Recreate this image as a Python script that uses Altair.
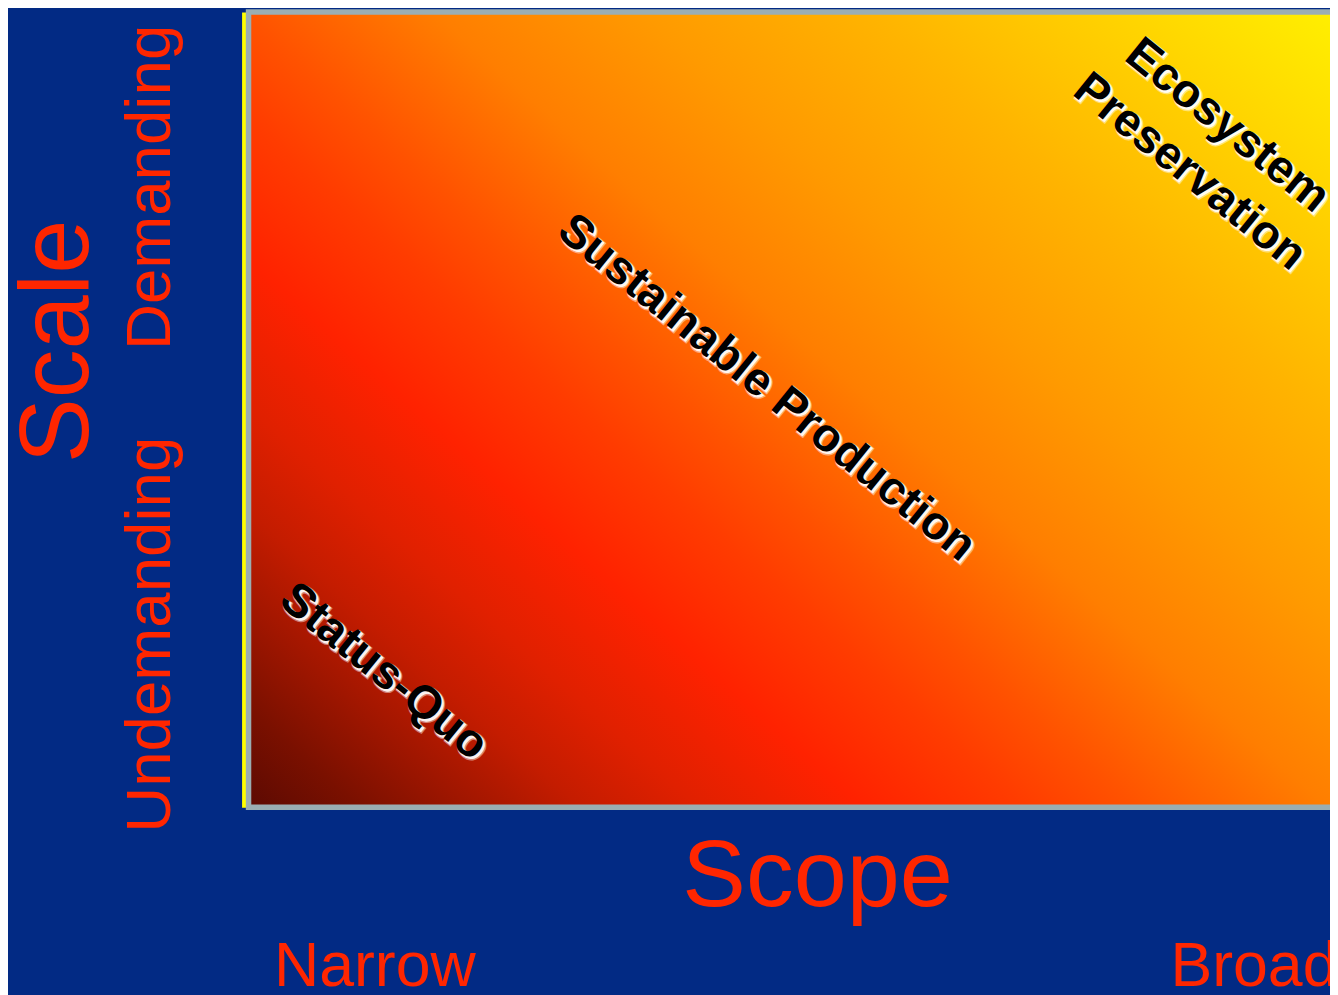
import altair as alt
import pandas as pd

# ---- data -------------------------------------------------------------
scope_span = [0.0, 1.01]          # field extends past the visible right edge
scale_span = [0.0, 1.0]

region_names = ["Status-Quo", "Sustainable Production", "Ecosystem\nPreservation"]
region_scope = [0.125, 0.479, 0.905]
region_scale = [0.17, 0.527, 0.857]

scale_ticks = [0.2175, 0.78]
scale_tick_labels = ["Undemanding", "Demanding"]
scope_ticks = [0.023, 0.852]
scope_tick_labels = ["Narrow", "Broad"]

# ---- layout / style ----------------------------------------------------
W_PLOT, H_PLOT = 1088, 800
BG = "#022a84"
RED_TXT = "#ff2600"
FONT = "Liberation Sans"

# colour stops along the diagonal (0 = bottom-left, 1 = top-right)
grad_stops = [
    (0.000, "#5c0a02"),
    (0.056, "#7a1000"),
    (0.113, "#a01600"),
    (0.169, "#c41c00"),
    (0.229, "#e02000"),
    (0.313, "#ff2200"),
    (0.395, "#ff3c00"),
    (0.451, "#ff5200"),
    (0.549, "#ff7e00"),
    (0.655, "#ff9a00"),
    (0.771, "#ffb400"),
    (1.000, "#ffee00"),
]

# gradient direction: isolines slightly flatter than 45 degrees
W_RECT = W_PLOT * scope_span[1]
H_RECT = H_PLOT
A, B, TMAX = 620.0, 551.0, 3.19
Q = W_RECT ** 2 / A ** 2 + H_RECT ** 2 / B ** 2
k = TMAX / Q
gx2 = W_RECT * k / A
gy2 = 1 - H_RECT * k / B

gradient = alt.LinearGradient(
    gradient="linear",
    stops=[alt.GradientStop(offset=o, color=c) for o, c in grad_stops],
    x1=0, y1=1, x2=gx2, y2=gy2,
)

rect_df = pd.DataFrame({
    "x0": [scope_span[0]], "x1": [scope_span[1]],
    "y0": [scale_span[0]], "y1": [scale_span[1]],
})
label_df = pd.DataFrame({"x0": region_scope, "y0": region_scale, "name": region_names})

y_expr = " : ".join(
    [f"abs(datum.value - {v}) < 0.001 ? '{t}'" for v, t in zip(scale_ticks, scale_tick_labels)]
) + " : ''"
x_expr = " : ".join(
    [f"abs(datum.value - {v}) < 0.001 ? '{t}'" for v, t in zip(scope_ticks, scope_tick_labels)]
) + " : ''"

x_axis = alt.Axis(
    values=scope_ticks, labelExpr=x_expr, title="Scope",
    domain=False, ticks=False, tickSize=0, grid=False,
    labelPadding=179, labelAlign="left", labelBaseline="alphabetic", labelAngle=0,
    labelFlush=False, labelOverlap=False, labelBound=False, labelLimit=0,
    labelFont=FONT, labelFontSize=63, labelColor=RED_TXT,
    titleFont=FONT, titleFontSize=96, titleFontWeight="normal", titleColor=RED_TXT,
    titleX=572, titleY=99, titleAlign="center", titleBaseline="alphabetic", titleLimit=0,
)
y_axis = alt.Axis(
    values=scale_ticks, labelExpr=y_expr, title="Scale",
    domain=True, domainColor="#ffff00", domainWidth=4, offset=5,
    ticks=False, tickSize=0, grid=False,
    labelPadding=75, labelAlign="center", labelBaseline="alphabetic", labelAngle=270,
    labelFlush=False, labelOverlap=False, labelBound=False, labelLimit=0,
    labelFont=FONT, labelFontSize=64, labelColor=RED_TXT,
    titleFont=FONT, titleFontSize=98, titleFontWeight="normal", titleColor=RED_TXT,
    titleAngle=270, titleX=-157, titleY=331, titleAlign="center", titleBaseline="alphabetic",
    titleLimit=0,
)

xs = alt.Scale(domain=[0, 1], nice=False, zero=False)
ys = alt.Scale(domain=[0, 1], nice=False, zero=False)

field = alt.Chart(rect_df).mark_rect(
    fill=gradient, stroke="#9aaeb3", strokeWidth=5.5
).encode(
    x=alt.X("x0:Q", scale=xs, axis=x_axis),
    x2="x1:Q",
    y=alt.Y("y0:Q", scale=ys, axis=y_axis),
    y2="y1:Q",
)

text_kw = dict(font=FONT, fontWeight="bold", fontSize=47, angle=39,
               align="center", baseline="middle", lineBreak="\n", lineHeight=60)

glow = alt.Chart(label_df).mark_text(
    color="white", stroke="white", strokeWidth=3, opacity=0.45, dx=3.2, dy=0.6, **text_kw
).encode(x="x0:Q", y="y0:Q", text="name:N")

shadow = alt.Chart(label_df).mark_text(
    color="white", stroke="white", strokeWidth=1.2, opacity=0.9, dx=2.6, dy=0.4, **text_kw
).encode(x="x0:Q", y="y0:Q", text="name:N")

labels = alt.Chart(label_df).mark_text(color="black", **text_kw).encode(
    x="x0:Q", y="y0:Q", text="name:N"
)

chart = alt.layer(field, glow, shadow, labels).properties(
    width=W_PLOT, height=H_PLOT,
    autosize=alt.AutoSizeParams(type="none"),
    padding={"left": 242, "top": 1, "right": 0, "bottom": 186},
    background=BG,
).configure_view(stroke=None)

chart.save("out.html", embed_options={"renderer": "svg", "actions": False})
